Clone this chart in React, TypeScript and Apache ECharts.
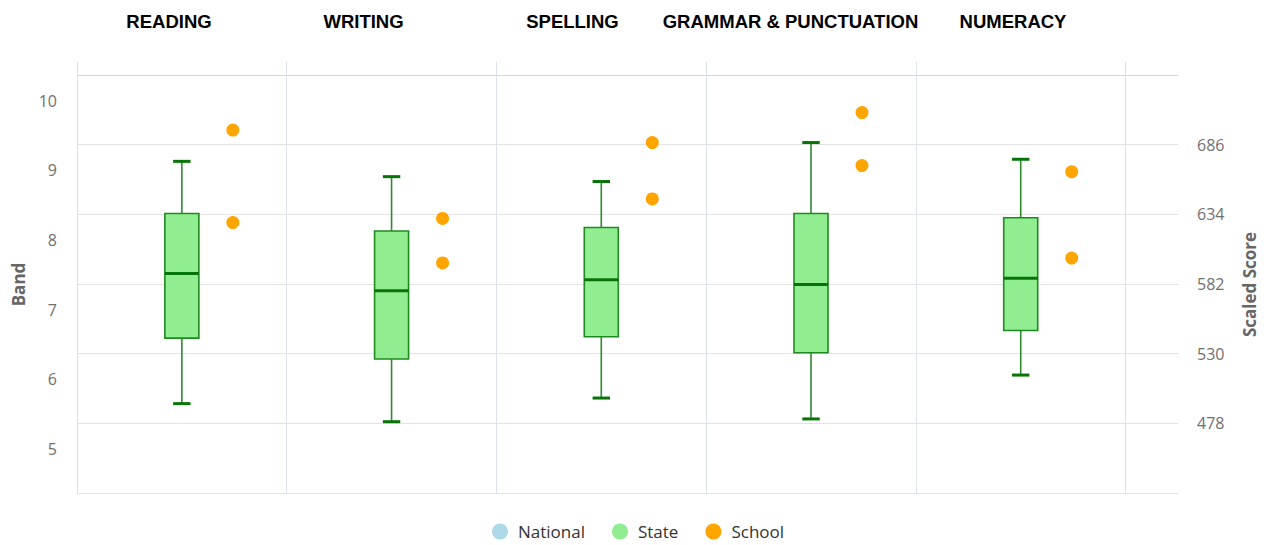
import React, { useEffect, useRef } from "react";
import * as echarts from "echarts";

// ---- data ----
const categories = ["READING", "WRITING", "SPELLING", "GRAMMAR & PUNCTUATION", "NUMERACY"];
const stateMin = [5.65, 5.39, 5.73, 5.43, 6.06];
const stateQ1 = [6.59, 6.29, 6.61, 6.38, 6.7];
const stateMedian = [7.52, 7.27, 7.43, 7.36, 7.45];
const stateQ3 = [8.38, 8.13, 8.18, 8.38, 8.32];
const stateMax = [9.13, 8.91, 8.84, 9.4, 9.16];
const schoolUpper = [9.58, 8.31, 9.4, 9.83, 8.98];
const schoolLower = [8.25, 7.67, 8.59, 9.07, 7.74];
const nationalValues: number[][] = [];
const bandTicks = [5, 6, 7, 8, 9, 10];
const scaledTicks = [478, 530, 582, 634, 686];
const scaledGridLines = [426, 478, 530, 582, 634, 686, 738];
const legendNames = ["National", "State", "School"];

// ---- layout ----
const titleCenters = [169, 363.5, 572.5, 790.5, 1013];

export default function App() {
  const ref = useRef<HTMLDivElement>(null);
  useEffect(() => {
    if (!ref.current) return;
    const chart = echarts.init(ref.current, null, { renderer: "svg" });

    const boxData = categories.map((_, i) => [
      i + 0.5,
      stateMin[i],
      stateQ1[i],
      stateMedian[i],
      stateQ3[i],
      stateMax[i],
    ]);
    const schoolData: number[][] = [];
    categories.forEach((_, i) => {
      schoolData.push([i + 0.5, schoolUpper[i]]);
      schoolData.push([i + 0.5, schoolLower[i]]);
    });

    const labelFont = "'Open Sans', 'DejaVu Sans', sans-serif";

    chart.setOption({
      animation: false,
      backgroundColor: "#ffffff",
      grid: { left: 77, right: 90, top: 62, bottom: 52, containLabel: false },
      legend: {
        data: legendNames,
        top: 518,
        left: 487,
        icon: "circle",
        itemWidth: 26,
        itemHeight: 16,
        itemGap: 27,
        textStyle: { fontFamily: labelFont, fontSize: 17, color: "#333333" },
      },
      graphic: categories.map((c, i) => ({
        type: "text",
        x: titleCenters[i],
        y: 21,
        style: {
          text: c,
          fill: "#000000",
          font: "bold 18.5px 'Liberation Sans', Arial, sans-serif",
          textAlign: "center",
          textVerticalAlign: "middle",
        },
      })),
      xAxis: {
        type: "value",
        min: 0,
        max: 5.25,
        axisLine: { show: false },
        axisTick: { show: false, customValues: [0, 1, 2, 3, 4, 5] },
        axisLabel: { show: false, customValues: [0, 1, 2, 3, 4, 5] },
        splitLine: { show: true, lineStyle: { color: "#dde1ea", width: 1 } },
      },
      yAxis: [
        {
          type: "value",
          position: "left",
          min: 4.366,
          max: 10.557,
          name: "Band",
          nameLocation: "middle",
          nameGap: 50,
          nameTextStyle: {
            fontFamily: labelFont,
            fontWeight: "bold",
            fontSize: 17,
            color: "#666666",
            padding: [0, 14, 0, 0],
          },
          axisLine: { show: false },
          axisTick: { show: false, customValues: bandTicks },
          axisLabel: {
            customValues: bandTicks,
            margin: 20,
            fontFamily: labelFont,
            fontSize: 16,
            color: "#707070",
          },
          splitLine: { show: false },
        },
        {
          type: "value",
          position: "right",
          min: 426,
          max: 747.7,
          name: "Scaled Score",
          nameLocation: "middle",
          nameGap: 63,
          nameTextStyle: {
            fontFamily: labelFont,
            fontWeight: "bold",
            fontSize: 17,
            color: "#666666",
            padding: [0, 14, 0, 0],
          },
          axisLine: { show: false },
          axisTick: { show: false, customValues: scaledGridLines },
          axisLabel: {
            customValues: scaledTicks,
            margin: 19,
            fontFamily: labelFont,
            fontSize: 16,
            color: "#707070",
          },
          splitLine: {
            show: true,
            lineStyle: {
              color: ["#e3e3e3", "#e3e3e3", "#e3e3e3", "#e3e3e3", "#e3e3e3", "#e3e3e3", "#cfd6e6"],
              width: 1,
            },
          },
        },
      ],
      series: [
        {
          name: "National",
          type: "scatter",
          yAxisIndex: 0,
          data: nationalValues,
          itemStyle: { color: "#add8e6", opacity: 1 },
        },
        {
          name: "State",
          type: "custom",
          yAxisIndex: 0,
          itemStyle: { color: "#90ee90" },
          encode: { x: 0, y: [1, 2, 3, 4, 5] },
          data: boxData,
          renderItem: (params: any, api: any) => {
            const x = api.value(0);
            const c = (v: number) => api.coord([x, v]);
            const pMin = c(api.value(1));
            const pQ1 = c(api.value(2));
            const pMed = c(api.value(3));
            const pQ3 = c(api.value(4));
            const pMax = c(api.value(5));
            const cx = pMin[0];
            const hw = 17;
            const cw = 8.7;
            const whisker = { stroke: "#2e8b2e", lineWidth: 1.6 };
            const thick = { stroke: "#067406", lineWidth: 3 };
            return {
              type: "group",
              children: [
                { type: "line", shape: { x1: cx, y1: pMax[1], x2: cx, y2: pQ3[1] }, style: whisker },
                { type: "line", shape: { x1: cx, y1: pQ1[1], x2: cx, y2: pMin[1] }, style: whisker },
                {
                  type: "rect",
                  shape: { x: cx - hw, y: pQ3[1], width: 2 * hw, height: pQ1[1] - pQ3[1] },
                  style: { fill: "#90ee90", stroke: "#1f8a1f", lineWidth: 1.6 },
                },
                { type: "line", shape: { x1: cx - hw, y1: pMed[1], x2: cx + hw, y2: pMed[1] }, style: thick },
                { type: "line", shape: { x1: cx - cw, y1: pMax[1], x2: cx + cw, y2: pMax[1] }, style: thick },
                { type: "line", shape: { x1: cx - cw, y1: pMin[1], x2: cx + cw, y2: pMin[1] }, style: thick },
              ],
            };
          },
        },
        {
          name: "School",
          type: "scatter",
          yAxisIndex: 0,
          symbol: "circle",
          symbolSize: 13,
          symbolOffset: [51, 0],
          itemStyle: { color: "#ffa500", opacity: 1 },
          data: schoolData,
        },
      ],
    });
    return () => chart.dispose();
  }, []);

  return (
    <div
      ref={ref}
      style={{ position: "fixed", left: 0, top: 0, width: 1268, height: 545, background: "#ffffff" }}
    />
  );
}
